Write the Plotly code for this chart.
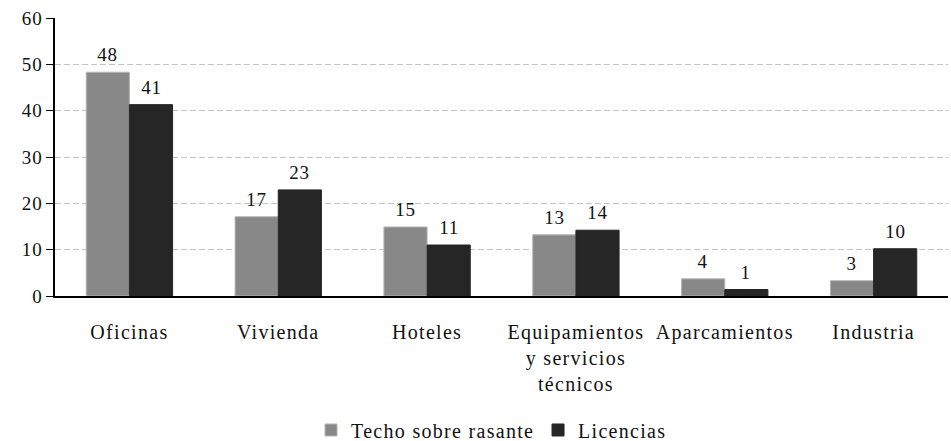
import plotly.graph_objects as go

categories = ["Oficinas", "Vivienda", "Hoteles", "Equipamientos<br>y servicios<br>técnicos", "Aparcamientos", "Industria"]
techo = [48.3, 17.1, 14.9, 13.2, 3.7, 3.3]
licencias = [41.3, 22.9, 11.0, 14.2, 1.4, 10.2]
y_ticks = [0, 10, 20, 30, 40, 50, 60]

font_family = "Liberation Serif"
BARGAP = 0.42

fig = go.Figure()
fig.add_trace(go.Bar(
    x=categories, y=techo, name="Techo sobre rasante",
    marker=dict(color="#888888", line=dict(color="#b5b5b5", width=1)),
))
fig.add_trace(go.Bar(
    x=categories, y=licencias, name="Licencias",
    marker=dict(color="#262626", line=dict(color="#262626", width=1)),
))

# data labels, placed over each bar through the axis scales
bar_half = 893 / len(categories) * (1 - BARGAP) / 4
for series, sign in ((techo, -1), (licencias, 1)):
    for cat, val in zip(categories, series):
        fig.add_annotation(
            x=cat, y=val, xref="x", yref="y", text=f"{val:.0f}", showarrow=False,
            xanchor="center", yanchor="bottom", xshift=sign * bar_half, yshift=5,
            font=dict(size=19, color="#111111", family=font_family),
        )

fig.update_layout(
    width=951, height=441,
    margin=dict(l=55, r=3, t=18, b=145, autoexpand=False),
    paper_bgcolor="white", plot_bgcolor="white",
    barmode="group", bargap=BARGAP, bargroupgap=0,
    font=dict(family=font_family, size=19, color="#111111"),
    showlegend=True,
    legend=dict(orientation="h", x=0.2867, xanchor="left", y=-0.482, yanchor="middle",
                font=dict(size=20, family=font_family), itemwidth=30, entrywidth=182,
                traceorder="normal"),
    xaxis=dict(showline=True, linecolor="black", linewidth=1.5, ticks="", automargin=False,
               tickfont=dict(size=20, family=font_family), ticklabelstandoff=17),
    yaxis=dict(range=[0, 60], tickvals=y_ticks, showline=True, linecolor="black", linewidth=1.5,
               ticks="outside", ticklen=7, tickcolor="black", automargin=False,
               showgrid=True, gridcolor="#c4c4c4", griddash="6px,3px", gridwidth=1,
               zeroline=False, tickfont=dict(size=19, family=font_family)),
)

post = (
    "document.body.style.margin='0';document.body.style.overflow='hidden';"
    "document.querySelectorAll('.xtick text, .legendtext').forEach(function(t){t.style.letterSpacing='1.3px';});"
    "document.querySelectorAll('.annotation-text, .ytick text').forEach(function(t){t.style.letterSpacing='0.8px';});"
)
fig.write_html("out.html", config={"displayModeBar": False}, post_script=post)
